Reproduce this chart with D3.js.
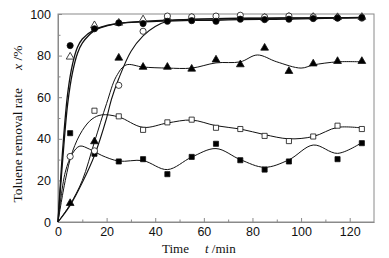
<!DOCTYPE html>
<html>
<head>
<meta charset="utf-8">
<script src="https://cdn.jsdelivr.net/npm/d3@7"></script>
<style>
  body { margin: 0; background: #fff; }
  svg { display: block; font-family: "Liberation Serif", "Times New Roman", serif; }
</style>
</head>
<body>
<div id="chart"></div>
<script>
// measured points (time, min)
const times = [5, 15, 25, 35, 45, 55, 65, 75, 85, 95, 105, 115, 125];
const filledCircle = [84.8, 92.9, 95.7, 95.4, 96.5, 96.8, 96.5, 97.5, 97.3, 97.5, 97.8, 98, 98.3];
const openTriangle = [79.4, 94.5, 95.7, 97.3, 98, 98, 98.2, 98.4, 98, 98.5, 98.5, 98.4, 98.5];
const openCircle = [31.5, 34.2, 65.7, 91.7, 99, 98.6, 99, 99.4, 98.5, 99, 98.6, 98.2, 98];
const filledTriangle = [9, 38.7, 78.9, 74.5, 74.5, 73.6, 78, 75.7, 83.7, 72.5, 76.1, 77.3, 77.3];
const openSquare = [null, 53.5, 50.8, 44.3, 47.9, 49.2, 45.3, 44.7, 41.4, 38.9, 41.1, 46.3, 44.7];
const filledSquare = [42.7, 32.8, 29.1, 30.2, 23, 31.3, 37.6, 29.7, 25.2, 29.1, null, 30.2, 37.9];

// fitted curves
const fitFastT = [0, 2, 4, 6, 8, 10, 15, 20, 25, 35, 45, 55, 65, 75, 85, 95, 105, 115, 125];
const fitFilledCircle = [0, 36, 62, 76, 84, 88, 92.5, 94.5, 95.5, 96.2, 96.6, 96.9, 97, 97.3, 97.4, 97.6, 97.8, 98, 98.2];
const fitOpenTriangle = [0, 31, 57, 72, 81, 86, 92, 94.3, 95.5, 96.5, 97, 97.4, 97.6, 97.8, 97.9, 98, 98.1, 98.2, 98.4];
const fitOpenCircleT = [0, 5, 10, 15, 20, 22, 25, 30, 35, 40, 45, 55, 65, 75, 85, 95, 105, 115, 125];
const fitOpenCircle = [0, 8, 19, 32, 50, 59, 69, 82, 89.5, 94, 96.5, 97.5, 97.8, 98, 98.1, 98.2, 98.2, 98.3, 98.3];
const fitFilledTriangleT = [0, 5, 10, 15, 20, 24, 28, 35, 45, 55, 65, 75, 82, 90, 100, 105, 115, 125];
const fitFilledTriangle = [0, 8.5, 20, 38.5, 57, 70, 75.5, 74.5, 74, 74, 76.5, 77, 80.3, 77, 74, 75.5, 77, 77];
const fitOpenSquareT = [0, 3, 6, 10, 14, 18, 25, 35, 45, 55, 65, 75, 85, 95, 105, 115, 125];
const fitOpenSquare = [0, 20, 34, 44, 49.5, 51.5, 50.5, 45.5, 47.6, 49, 46.3, 44.7, 42, 40, 41.1, 45.5, 45.2];
const fitFilledSquareT = [0, 3, 6, 9, 13, 18, 25, 35, 45, 55, 65, 75, 85, 95, 105, 115, 125];
const fitFilledSquare = [0, 24, 33, 36.5, 35, 32, 29.3, 29.5, 25.2, 31.2, 35.3, 30, 26.3, 29.9, 37, 33, 38.2];

const xTicks = [0, 20, 40, 60, 80, 100, 120];
const yTicks = [0, 20, 40, 60, 80, 100];

/* Set the dimensions and margins of the graph */
const width = 389, height = 258;
const margins = {top: 14, right: 15, bottom: 36, left: 58};

const svg = d3.select("#chart")
    .append("svg")
    .attr("width", width)
    .attr("height", height);

const xScale = d3.scaleLinear()
    .domain([0, 130])
    .range([margins.left, width - margins.right]);
const yScale = d3.scaleLinear()
    .domain([0, 100])
    .range([height - margins.bottom, margins.top]);

const axisColor = "#8a8a8a";

// frame
svg.append("rect")
    .attr("x", xScale(0))
    .attr("y", yScale(100))
    .attr("width", xScale(130) - xScale(0))
    .attr("height", yScale(0) - yScale(100))
    .attr("fill", "none")
    .attr("stroke", axisColor)
    .attr("stroke-width", 1);

// x axis (ticks pointing inward)
const xAxis = d3.axisBottom(xScale)
    .tickValues(xTicks)
    .tickSizeInner(-4)
    .tickSizeOuter(0)
    .tickPadding(5);
const xGroup = svg.append("g")
    .attr("transform", `translate(0,${yScale(0)})`)
    .call(xAxis);
xGroup.select(".domain").attr("stroke", axisColor);
xGroup.selectAll(".tick line").attr("stroke", axisColor);
xGroup.selectAll("text")
    .attr("fill", "#111")
    .style("font-size", "12.5px");

svg.append("g")
    .attr("transform", `translate(0,${yScale(0)})`)
    .call(d3.axisBottom(xScale).tickValues(d3.range(10, 130, 20)).tickSizeInner(-2.5).tickSizeOuter(0).tickFormat(""))
    .call(g => g.select(".domain").remove())
    .call(g => g.selectAll("line").attr("stroke", axisColor));

// y axis
const yAxis = d3.axisLeft(yScale)
    .tickValues(yTicks)
    .tickSizeInner(-4)
    .tickSizeOuter(0)
    .tickPadding(7);
const yGroup = svg.append("g")
    .attr("transform", `translate(${xScale(0)},0)`)
    .call(yAxis);
yGroup.select(".domain").attr("stroke", axisColor);
yGroup.selectAll(".tick line").attr("stroke", axisColor);
yGroup.selectAll("text")
    .attr("fill", "#111")
    .style("font-size", "12.5px");

svg.append("g")
    .attr("transform", `translate(${xScale(0)},0)`)
    .call(d3.axisLeft(yScale).tickValues([10, 30, 50, 70, 90]).tickSizeInner(-2.5).tickSizeOuter(0).tickFormat(""))
    .call(g => g.select(".domain").remove())
    .call(g => g.selectAll("line").attr("stroke", axisColor));

// axis titles
const xTitle = svg.append("text")
    .attr("x", 162)
    .attr("y", 253)
    .attr("fill", "#111")
    .style("font-size", "13px");
xTitle.append("tspan").text("Time");
xTitle.append("tspan").attr("dx", "16").style("font-style", "italic").text("t");
xTitle.append("tspan").text(" /min");

const yTitle = svg.append("text")
    .attr("transform", "translate(22,124) rotate(-90)")
    .attr("text-anchor", "middle")
    .attr("fill", "#111")
    .style("font-size", "13.5px");
yTitle.append("tspan").text("Toluene removal rate");
yTitle.append("tspan").attr("dx", "18").style("font-style", "italic").text("x");
yTitle.append("tspan").text(" /%");

/* Construct a line generator */
const line = d3.line()
    .curve(d3.curveCatmullRom.alpha(0.5))
    .x(d => xScale(d[0]))
    .y(d => yScale(d[1]));

const fits = [
    [fitFastT, fitFilledCircle, 1.3],
    [fitFastT, fitOpenTriangle, 1.3],
    [fitOpenCircleT, fitOpenCircle, 1.1],
    [fitFilledTriangleT, fitFilledTriangle, 1],
    [fitOpenSquareT, fitOpenSquare, 1],
    [fitFilledSquareT, fitFilledSquare, 1]
];

svg.append("g")
    .selectAll("path")
    .data(fits)
    .join("path")
    .attr("d", d => line(d[0].map((t, i) => [t, d[1][i]])))
    .attr("fill", "none")
    .attr("stroke", "#111")
    .attr("stroke-width", d => d[2]);

// markers
const series = [
    {values: filledSquare, shape: d3.symbolSquare, size: 26, fill: "#000"},
    {values: openSquare, shape: d3.symbolSquare, size: 26, fill: "#fff"},
    {values: filledTriangle, shape: d3.symbolTriangle, size: 26, fill: "#000"},
    {values: openTriangle, shape: d3.symbolTriangle, size: 26, fill: "#fff"},
    {values: openCircle, shape: d3.symbolCircle, size: 30, fill: "#fff"},
    {values: filledCircle, shape: d3.symbolCircle, size: 30, fill: "#000"}
];

series.forEach(s => {
    const pts = times.map((t, i) => [t, s.values[i]]).filter(p => p[1] != null);
    svg.append("g")
        .selectAll("path")
        .data(pts)
        .join("path")
        .attr("transform", d => `translate(${xScale(d[0])},${yScale(d[1])})`)
        .attr("d", d3.symbol().type(s.shape).size(s.size))
        .attr("fill", s.fill)
        .attr("stroke", "#111")
        .attr("stroke-width", 0.8);
});
</script>
</body>
</html>
